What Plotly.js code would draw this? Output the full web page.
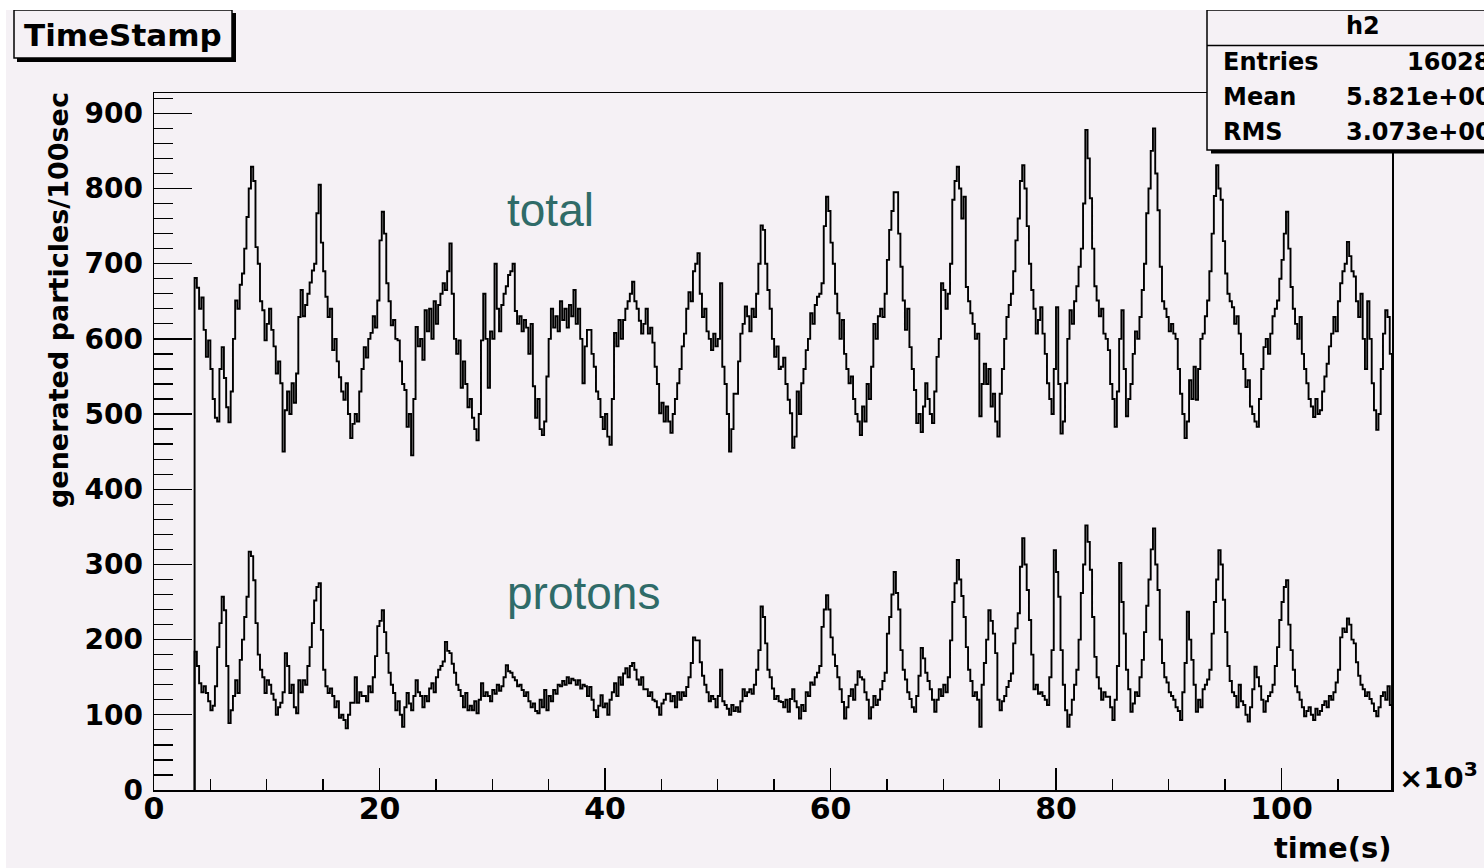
<!DOCTYPE html>
<html><head><meta charset="utf-8">
<script src="https://cdn.plot.ly/plotly-3.0.1.min.js"></script>
<style>
html,body{margin:0;padding:0;background:#ffffff;width:1484px;height:868px;overflow:hidden;}
#chart{position:absolute;left:6px;top:10px;width:1478px;height:858px;}
</style></head><body><div id="chart"></div>
<script>
// ---- data (time in units of 10^3 s, bins of 0.2 x10^3 s) ----
const binStartKs = 3.6;
const binWidthKs = 0.2;
const totalCounts = [
681,668,640,655,612, 576,598,560,520,495, 490,560,589,548,509, 489,530,600,651,640, 672,687,720,762,800,
829,810,722,700,650, 638,598,620,640,612, 590,554,570,541,450, 505,530,500,541,515, 554,629,665,630,645,
660,675,691,700,767, 805,728,690,656,629, 640,585,600,570,549, 530,519,541,500,468, 487,500,490,530,560,
589,575,600,608,630, 615,651,731,769,740, 674,650,618,625,600, 598,570,540,532,483, 500,445,520,616,590,
600,572,638,610,640, 600,650,620,645,660, 674,665,690,727,660, 600,580,598,535,570, 540,509,520,495,480,
465,500,598,660,600, 535,610,600,700,640, 610,645,660,670,685, 690,700,637,620,630, 610,625,615,580,620,
537,495,520,480,472, 490,550,600,640,615, 630,610,650,625,640, 615,645,630,665,620, 640,600,541,590,612,
612,580,563,530,520, 496,480,500,470,459, 520,608,590,625,600, 625,640,650,660,676, 650,640,624,607,620,
640,607,615,595,563, 540,501,515,490,510, 490,475,500,520,541, 560,590,607,640,662, 650,690,700,714,660,
629,640,610,600,585, 607,590,600,674,563, 540,500,450,480,527, 527,570,607,620,643, 630,610,640,629,660,
700,751,745,700,665, 640,600,576,590,560, 563,575,540,519,501, 455,470,530,500,541, 560,585,600,634,620,
645,656,660,674,750, 789,770,728,700,660, 634,600,625,580,560, 541,550,520,500,490, 472,510,490,540,520,
563,620,600,630,640, 629,660,705,745,770, 795,795,740,696,651, 612,640,589,560,532, 488,500,476,510,541,
520,500,488,530,576, 600,674,665,640,660, 700,785,810,829,800, 760,789,669,650,634, 620,600,607,497,540,
567,540,560,510,527, 490,470,527,560,600, 629,645,660,690,731, 760,810,831,800,750, 700,665,640,607,625,
642,607,580,541,520, 500,560,642,540,474, 490,541,600,638,620, 650,670,696,720,780, 878,840,787,720,670,
651,630,640,607,600, 585,540,520,483,530, 600,638,560,497,520, 540,580,610,600,629, 665,700,767,800,850,
880,820,771,696,650, 640,629,610,620,607, 600,560,527,500,468, 490,545,520,563,519, 560,600,607,630,651,
690,740,790,831,800, 785,730,687,660,650, 642,620,630,607,580, 560,536,545,510,500, 490,483,520,560,589,
600,580,607,630,640, 651,680,705,740,769, 720,669,640,620,600, 629,580,560,541,520, 510,496,520,500,505,
530,550,567,590,607, 629,610,650,674,690, 700,729,710,690,683, 650,629,660,600,560, 650,600,541,505,479,
500,560,607,638,629, 580
];
const protonCounts = [
184,165,142,130,138, 129,118,106,112,138, 190,222,257,239,165, 89,106,125,146,129, 173,200,230,257,317,
311,279,222,180,160, 150,129,146,140,128, 120,100,110,116,130, 182,165,129,140,110, 102,146,130,146,140,
165,190,222,252,270, 275,213,160,138,129, 135,125,110,118,96, 100,93,82,100,116, 116,150,116,130,125,
125,118,138,130,150, 178,218,225,239,210, 182,156,140,129,106, 118,100,84,110,129, 115,106,125,146,130,
125,110,125,118,135, 142,130,150,160,165, 171,197,185,182,168, 156,140,133,125,110, 129,106,112,106,118,
102,120,142,125,130, 125,118,133,128,140, 132,138,150,166,158, 156,150,146,138,140, 133,125,130,118,110,
115,105,102,120,110, 133,106,125,118,133, 128,140,138,145,140, 150,142,148,146,140, 146,135,140,138,125,
137,120,106,97,112, 126,110,115,100,120, 130,142,125,150,140, 155,162,150,165,169, 160,147,140,150,134,
134,125,130,120,118, 110,100,115,120,128, 128,118,125,110,130, 120,130,125,137,150, 169,203,199,199,170,
152,140,130,118,125, 121,110,125,160,118, 113,108,100,113,105, 110,104,118,134,125, 130,134,128,140,160,
186,244,230,195,160, 150,135,121,125,118, 117,110,120,104,121, 134,118,110,95,113, 105,130,125,143,140,
150,156,165,217,240, 259,240,203,180,165, 150,134,117,95,110, 125,134,120,140,158, 150,147,130,120,95,
110,125,113,120,134, 145,156,208,230,260, 290,262,240,186,160, 147,130,121,110,104, 125,152,189,175,156,
145,134,120,104,120, 134,125,140,130,150, 199,250,275,306,280, 258,230,190,160,145, 125,130,120,84,140,
169,200,239,225,208, 182,120,106,118,125, 137,145,155,195,215, 235,297,335,300,266, 226,180,134,140,128,
130,125,120,113,150, 186,319,290,257,186, 140,106,84,100,120, 140,160,200,262,300, 352,330,293,230,177,
150,135,120,130,124, 124,110,93,120,165, 302,250,208,160,134, 104,115,130,125,150, 173,210,245,280,320,
348,300,266,200,169, 150,143,130,125,120, 110,105,93,130,169, 237,200,173,140,104, 120,110,134,140,147,
160,208,250,280,319, 300,253,210,165,145, 130,125,110,140,118, 113,100,91,110,134, 164,150,138,120,104,
118,125,130,140,165, 190,226,250,270,279, 220,186,160,138,130, 120,110,98,105,110, 100,93,108,100,105,
113,118,110,125,120, 130,143,160,203,215, 210,228,220,200,195, 170,152,140,134,125, 130,121,115,105,98,
110,125,130,120,138, 113
];
const xTickVals = [0, 20, 40, 60, 80, 100];
const xTickText = ['0', '20', '40', '60', '80', '100'];
const yTickVals = [0, 100, 200, 300, 400, 500, 600, 700, 800, 900];
const yTickText = ['0', '100', '200', '300', '400', '500', '600', '700', '800', '900'];
const seriesLabels = ['total', 'protons'];
const statsName = 'h2';
const statsLabels = ['Entries', 'Mean', 'RMS'];
const statsValues = ['16028', '5.821e+00', '3.073e+00'];

// ---- drawing ----
function stepTrace(counts, name) {
  const xs = [binStartKs], ys = [0];
  for (let i = 0; i < counts.length; i++) {
    xs.push(binStartKs + i * binWidthKs);
    ys.push(counts[i]);
  }
  const xEnd = binStartKs + counts.length * binWidthKs;
  xs.push(xEnd); ys.push(counts[counts.length - 1]);
  xs.push(xEnd); ys.push(0);
  return {type: 'scatter', mode: 'lines', name: name, x: xs, y: ys,
    line: {shape: 'hv', color: '#000000', width: 1.9},
    hoverinfo: 'skip', showlegend: false, cliponaxis: true};
}

const BG = '#f5f1f5';
const PW = 1238, PH = 697;           // plot area size in px
const px = X => (X - 154) / PW;      // page px -> paper x
const py = Y => (790 - Y) / PH;      // page px -> paper y
const bold = (size, fam) => ({family: fam || 'DejaVu Sans', size: size, color: '#000000', weight: 'bold'});

const annotations = [
  {text: 'TimeStamp', x: px(123), y: py(35), xanchor: 'center', yanchor: 'middle', font: bold(31)},
  {text: 'generated particles/100sec', textangle: -90, x: px(58), y: py(300), xanchor: 'center', yanchor: 'middle', font: bold(27)},
  {text: 'time(s)', x: px(1393), y: py(848), xanchor: 'right', yanchor: 'middle', font: bold(29)},
  {text: '\u00d710<sup>3</sup>', x: px(1397), y: py(776), xanchor: 'left', yanchor: 'middle', font: bold(29)},
  {text: seriesLabels[0], x: px(505), y: py(210), xanchor: 'left', yanchor: 'middle',
    font: {family: 'Liberation Sans, Arial', size: 46, color: '#2f6b68'}},
  {text: seriesLabels[1], x: px(505), y: py(593), xanchor: 'left', yanchor: 'middle',
    font: {family: 'Liberation Sans, Arial', size: 46, color: '#2f6b68'}},
  {text: statsName, x: px(1363), y: py(26), xanchor: 'center', yanchor: 'middle', font: bold(24)}
];
const rowY = [62, 97, 132];
const valX = [1405, 1344, 1344];
statsLabels.forEach((lab, i) => {
  annotations.push({text: lab, x: px(1221), y: py(rowY[i]), xanchor: 'left', yanchor: 'middle', font: bold(24)});
  annotations.push({text: statsValues[i], x: px(valX[i]), y: py(rowY[i]), xanchor: 'left', yanchor: 'middle', font: bold(24)});
});
annotations.forEach(a => { a.xref = 'paper'; a.yref = 'paper'; a.showarrow = false; });

const shapes = [
  {type: 'rect', x0: px(17), x1: px(236), y0: py(62), y1: py(13), fillcolor: '#000000', line: {width: 0}},
  {type: 'rect', x0: px(14), x1: px(232), y0: py(58), y1: py(10), fillcolor: BG, line: {color: '#000000', width: 1.5}},
  {type: 'rect', x0: px(1211), x1: px(1520), y0: py(153.5), y1: py(13), fillcolor: '#000000', line: {width: 0}},
  {type: 'rect', x0: px(1207), x1: px(1520), y0: py(150), y1: py(10), fillcolor: BG, line: {color: '#000000', width: 1.5}},
  {type: 'line', x0: px(1207), x1: px(1520), y0: py(45.5), y1: py(45.5), line: {color: '#000000', width: 1.5}}
];
shapes.forEach(s => { s.xref = 'paper'; s.yref = 'paper'; s.layer = 'above'; });

const layout = {
  width: 1478, height: 858, autosize: false,
  margin: {l: 148, r: 92, t: 83, b: 78, pad: 0},
  paper_bgcolor: BG, plot_bgcolor: BG,
  showlegend: false,
  xaxis: {
    range: [0, 109.8], tickmode: 'array', tickvals: xTickVals, ticktext: xTickText,
    ticks: 'inside', ticklen: 22, tickwidth: 1.3, tickcolor: '#000000',
    minor: {tickmode: 'linear', tick0: 0, dtick: 5, ticks: 'inside', ticklen: 11, tickwidth: 1.3, tickcolor: '#000000', showgrid: false},
    showline: true, linecolor: '#000000', linewidth: 1.5, mirror: true,
    showgrid: false, zeroline: false, tickfont: bold(30), ticklabelstandoff: -9
  },
  yaxis: {
    range: [0, 927], tickmode: 'array', tickvals: yTickVals, ticktext: yTickText,
    ticks: 'inside', ticklen: 38, tickwidth: 1.3, tickcolor: '#000000',
    minor: {tickmode: 'linear', tick0: 0, dtick: 20, ticks: 'inside', ticklen: 19, tickwidth: 1.3, tickcolor: '#000000', showgrid: false},
    showline: true, linecolor: '#000000', linewidth: 1.5, mirror: true,
    showgrid: false, zeroline: false, tickfont: bold(28), ticklabelstandoff: 4
  },
  annotations: annotations,
  shapes: shapes
};

Plotly.newPlot('chart', [stepTrace(totalCounts, 'total'), stepTrace(protonCounts, 'protons')], layout,
  {staticPlot: true, displayModeBar: false});
</script></body></html>
